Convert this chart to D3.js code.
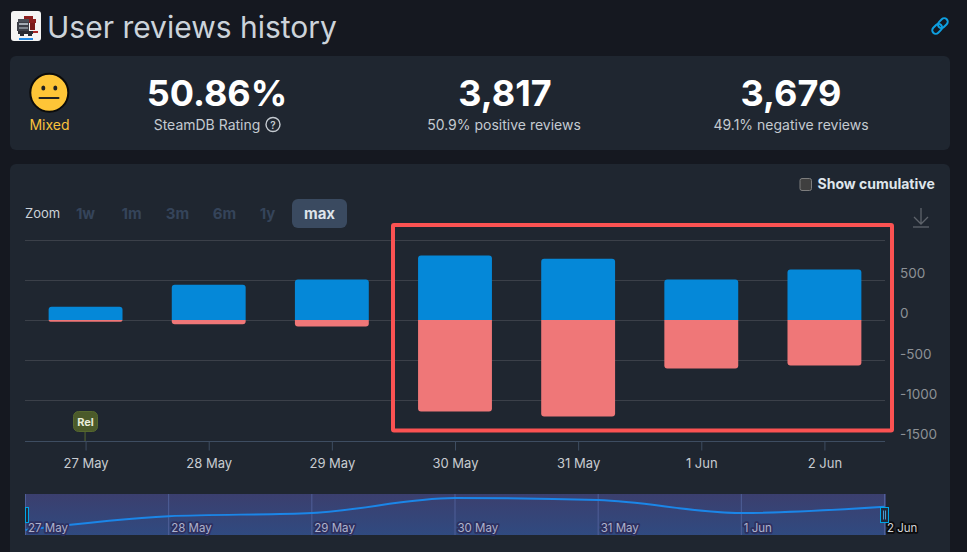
<!DOCTYPE html>
<html>
<head>
<meta charset="utf-8">
<script src="https://cdn.jsdelivr.net/npm/d3@7"></script>
<style>
html,body{margin:0;padding:0;background:#151820;overflow:hidden}
svg{display:block}
text{font-family:Inter,"Noto Sans",sans-serif}
</style>
</head>
<body>
<svg id="page" width="967" height="552"></svg>
<script>
// Daily review counts
const days = ["27 May", "28 May", "29 May", "30 May", "31 May", "1 Jun", "2 Jun"];
const positive = [165, 440, 505, 805, 765, 505, 632];
const negative = [-22, -52, -80, -1145, -1205, -607, -568];
const gridValues = [1000, 500, 0, -500, -1000];
const axisLabels = [500, 0, -500, -1000, -1500];
const zoomOptions = ["1w", "1m", "3m", "6m", "1y"];
const zoomCentres = [86, 132, 178, 225, 268];
const summaries = [
  {big: "50.86%", small: "SteamDB Rating", x: 217, smallX: 207},
  {big: "3,817", small: "50.9% positive reviews", x: 505, smallX: 504},
  {big: "3,679", small: "49.1% negative reviews", x: 791, smallX: 791}
];

const svg = d3.select("#page");
svg.append("rect").attr("width", 967).attr("height", 552).attr("fill", "#151820");

const defs = svg.append("defs");
const navGrad = defs.append("linearGradient").attr("id", "navFill")
  .attr("x1", 0).attr("y1", 0).attr("x2", 0).attr("y2", 1);
navGrad.append("stop").attr("offset", "0").attr("stop-color", "#3b3f6e");
navGrad.append("stop").attr("offset", "1").attr("stop-color", "#304a80");

// Panels
svg.append("rect").attr("x", 10).attr("y", 56).attr("width", 940).attr("height", 94).attr("rx", 6).attr("fill", "#1f2630");
svg.append("rect").attr("x", 10).attr("y", 164).attr("width", 940).attr("height", 400).attr("rx", 6).attr("fill", "#1f2630");

// Header: game icon, title, link glyph
const icon = svg.append("g");
icon.append("rect").attr("x", 11).attr("y", 11).attr("width", 30).attr("height", 30).attr("rx", 3).attr("fill", "#f4f4f4");
[
  [24, 16, 9, 3, "#8c1f1f"], [29, 19, 7, 4, "#8c1f1f"], [30, 23, 5, 7, "#7a1a1a"], [33, 31, 5, 2, "#a82626"],
  [18, 19, 11, 3, "#4b4f58"], [17, 22, 12, 9, "#3c3f48"], [19, 23, 9, 2, "#a4abb4"], [19, 27, 9, 2, "#80868f"],
  [18, 31, 15, 3, "#2a2c33"], [20, 34, 4, 2, "#2a2c33"], [28, 34, 4, 2, "#2a2c33"], [19, 38, 14, 2, "#1e88e5"]
].forEach(([x, y, w, h, c]) => {
  icon.append("rect").attr("x", x).attr("y", y).attr("width", w).attr("height", h).attr("fill", c);
});
svg.append("text").attr("x", 47).attr("y", 37.5).attr("font-size", 30).attr("fill", "#ccd3da").text("User reviews history");
const link = svg.append("g").attr("transform", "translate(940,26) rotate(-45)")
  .attr("fill", "none").attr("stroke", "#0e9fe0").attr("stroke-width", 2);
link.append("rect").attr("x", -9.5).attr("y", -3.5).attr("width", 11).attr("height", 7).attr("rx", 3.5);
link.append("rect").attr("x", -1.5).attr("y", -3.5).attr("width", 11).attr("height", 7).attr("rx", 3.5);

// Rating face
svg.append("circle").attr("cx", 49.3).attr("cy", 92.7).attr("r", 19).attr("fill", "#fec537").attr("stroke", "#0b0b0b").attr("stroke-width", 2);
svg.append("ellipse").attr("cx", 43.3).attr("cy", 88).attr("rx", 2).attr("ry", 2.6).attr("fill", "#222");
svg.append("ellipse").attr("cx", 55.3).attr("cy", 88).attr("rx", 2).attr("ry", 2.6).attr("fill", "#222");
svg.append("rect").attr("x", 38.5).attr("y", 97).attr("width", 21).attr("height", 2).attr("rx", 1).attr("fill", "#222");
svg.append("text").attr("x", 49.5).attr("y", 130).attr("text-anchor", "middle").attr("font-size", 14).attr("fill", "#f9c23c").text("Mixed");

// Summary figures
summaries.forEach(s => {
  svg.append("text").attr("x", s.x).attr("y", 105.5).attr("text-anchor", "middle")
    .attr("font-size", 36).attr("font-weight", 700).attr("fill", "#ffffff").text(s.big);
  svg.append("text").attr("x", s.smallX).attr("y", 130).attr("text-anchor", "middle")
    .attr("font-size", 14).attr("fill", "#c4cad0").text(s.small);
});
svg.append("circle").attr("cx", 273).attr("cy", 124.5).attr("r", 7).attr("fill", "none").attr("stroke", "#c4cad0").attr("stroke-width", 1.4);
svg.append("text").attr("x", 273).attr("y", 128.5).attr("text-anchor", "middle").attr("font-size", 10).attr("font-weight", 600).attr("fill", "#c4cad0").text("?");

// Cumulative toggle
svg.append("rect").attr("x", 800).attr("y", 178.5).attr("width", 11.5).attr("height", 12).attr("rx", 2).attr("fill", "#3f3f3f").attr("stroke", "#7d7d7d");
svg.append("text").attr("x", 817.5).attr("y", 189).attr("font-size", 14).attr("font-weight", 700).attr("fill", "#dfe5eb").text("Show cumulative");

// Range selector
svg.append("text").attr("x", 25).attr("y", 218).attr("font-size", 13).attr("fill", "#ccd2d8").text("Zoom");
zoomOptions.forEach((z, i) => {
  svg.append("text").attr("x", zoomCentres[i] - 0.5).attr("y", 219).attr("text-anchor", "middle")
    .attr("font-size", 15).attr("font-weight", 700).attr("fill", "#35445a").text(z);
});
svg.append("rect").attr("x", 292).attr("y", 199).attr("width", 55).attr("height", 29).attr("rx", 6).attr("fill", "#3a4a60");
svg.append("text").attr("x", 319.5).attr("y", 219).attr("text-anchor", "middle").attr("font-size", 15).attr("font-weight", 700).attr("fill", "#dde3ea").text("max");

// Download glyph
const dl = svg.append("g").attr("fill", "none").attr("stroke", "#5e636b").attr("stroke-width", 1.3);
dl.append("path").attr("d", "M921 208 V224 M914 217 L921 224 L928 217");
dl.append("path").attr("d", "M913 227 H929");

// Main plot scales
const x = d3.scaleBand().domain(days).range([24, 886]).paddingInner(0.4).paddingOuter(0.2);
const y = d3.scaleLinear().domain([-1500, 1000]).range([440, 240]);

svg.append("g").selectAll("line").data(gridValues).join("line")
  .attr("x1", 25).attr("x2", 885)
  .attr("y1", d => y(d) + 0.5).attr("y2", d => y(d) + 0.5)
  .attr("stroke", "#3b4049");

// A bar with rounded corners on its far end only, flat on the baseline
function barPath(day, value) {
  const left = x(day), right = left + x.bandwidth();
  const y0 = y(0), y1 = y(value);
  const s = value > 0 ? 1 : -1;
  const r = Math.min(3, Math.abs(y1 - y0));
  const p = d3.path();
  p.moveTo(left, y0);
  p.lineTo(left, y1 + s * r);
  p.quadraticCurveTo(left, y1, left + r, y1);
  p.lineTo(right - r, y1);
  p.quadraticCurveTo(right, y1, right, y1 + s * r);
  p.lineTo(right, y0);
  p.closePath();
  return p.toString();
}
svg.append("g").selectAll("path").data(days).join("path")
  .attr("d", (d, i) => barPath(d, negative[i])).attr("fill", "#ef7778");
svg.append("g").selectAll("path").data(days).join("path")
  .attr("d", (d, i) => barPath(d, positive[i])).attr("fill", "#0588d8");

// Value labels sit to the right of the plot, just above their grid lines
svg.append("g").selectAll("text").data(axisLabels).join("text")
  .attr("x", 900).attr("y", d => y(d) - 2 + (d < 0 ? 0.5 : -0.5))
  .attr("font-size", 13.5).attr("fill", "#8d9196").text(d => d);

// Date axis
const xAxis = d3.axisBottom(d3.scalePoint().domain(days).range([x(days[0]) + x.bandwidth() / 2, x(days[6]) + x.bandwidth() / 2]))
  .tickSize(9).tickPadding(8);
const axisG = svg.append("g").attr("transform", "translate(0,441.5)").call(xAxis);
axisG.select(".domain").attr("d", "M25,0H885").attr("stroke", "#3e4d61");
axisG.selectAll(".tick line").attr("stroke", "#3e4d61");
axisG.selectAll(".tick text").attr("font-size", 13).attr("font-family", "Inter,sans-serif").attr("fill", "#c8ccd1");

// Release flag
const flagX = x(days[0]) + x.bandwidth() / 2 - 0.5;
svg.append("line").attr("x1", flagX).attr("x2", flagX).attr("y1", 432).attr("y2", 441).attr("stroke", "#56682e");
svg.append("rect").attr("x", 73.5).attr("y", 411.5).attr("width", 24).attr("height", 20).attr("rx", 5).attr("fill", "#4b5a2a").attr("stroke", "#56682e");
svg.append("text").attr("x", 85.5).attr("y", 425.5).attr("text-anchor", "middle").attr("font-size", 11).attr("font-weight", 700).attr("fill", "#e8ecd8").text("Rel");

// Highlight frame
svg.append("rect").attr("x", 393).attr("y", 225).attr("width", 499).attr("height", 205.5).attr("rx", 1)
  .attr("fill", "none").attr("stroke", "#fb5252").attr("stroke-width", 4);

// Navigator strip
const navX = d3.scalePoint().domain(days).range([25.5, 884.5]);
const navY = d3.scaleLinear().domain([0, 880]).range([538.25, 494.25]);
svg.append("rect").attr("x", 25).attr("y", 494).attr("width", 861).attr("height", 41).attr("fill", "url(#navFill)");
svg.append("g").selectAll("line").data(days).join("line")
  .attr("x1", d => navX(d)).attr("x2", d => navX(d))
  .attr("y1", 494).attr("y2", 535).attr("stroke", "#4f5f98");
const navLine = d3.line().x((d, i) => navX(days[i])).y(d => navY(d)).curve(d3.curveMonotoneX);
svg.append("path").attr("d", navLine(positive)).attr("fill", "none").attr("stroke", "#1b86e8").attr("stroke-width", 2);
svg.append("g").selectAll("text").data(days).join("text")
  .attr("x", d => navX(d) + 2.5).attr("y", 531.5)
  .attr("font-size", 11.5)
  .attr("fill", d => d === "2 Jun" ? "#d2d4d8" : "#aeb2cc")
  .attr("stroke", d => d === "2 Jun" ? "#0b0b0d" : "#2d3060")
  .attr("stroke-width", 3.5).attr("paint-order", "stroke").attr("stroke-linejoin", "round")
  .text(d => d);

// Navigator handles
const handles = svg.append("g").attr("fill", "#1f2a3a").attr("stroke", "#00a5e6");
handles.append("rect").attr("x", 25.5).attr("y", 507.5).attr("width", 3).attr("height", 15);
handles.append("rect").attr("x", 880.5).attr("y", 507.5).attr("width", 8).attr("height", 15);
handles.append("path").attr("d", "M883.5 510.5 V519.5 M885.5 510.5 V519.5").attr("stroke", "#4a9ad0").attr("fill", "none");
</script>
</body>
</html>
